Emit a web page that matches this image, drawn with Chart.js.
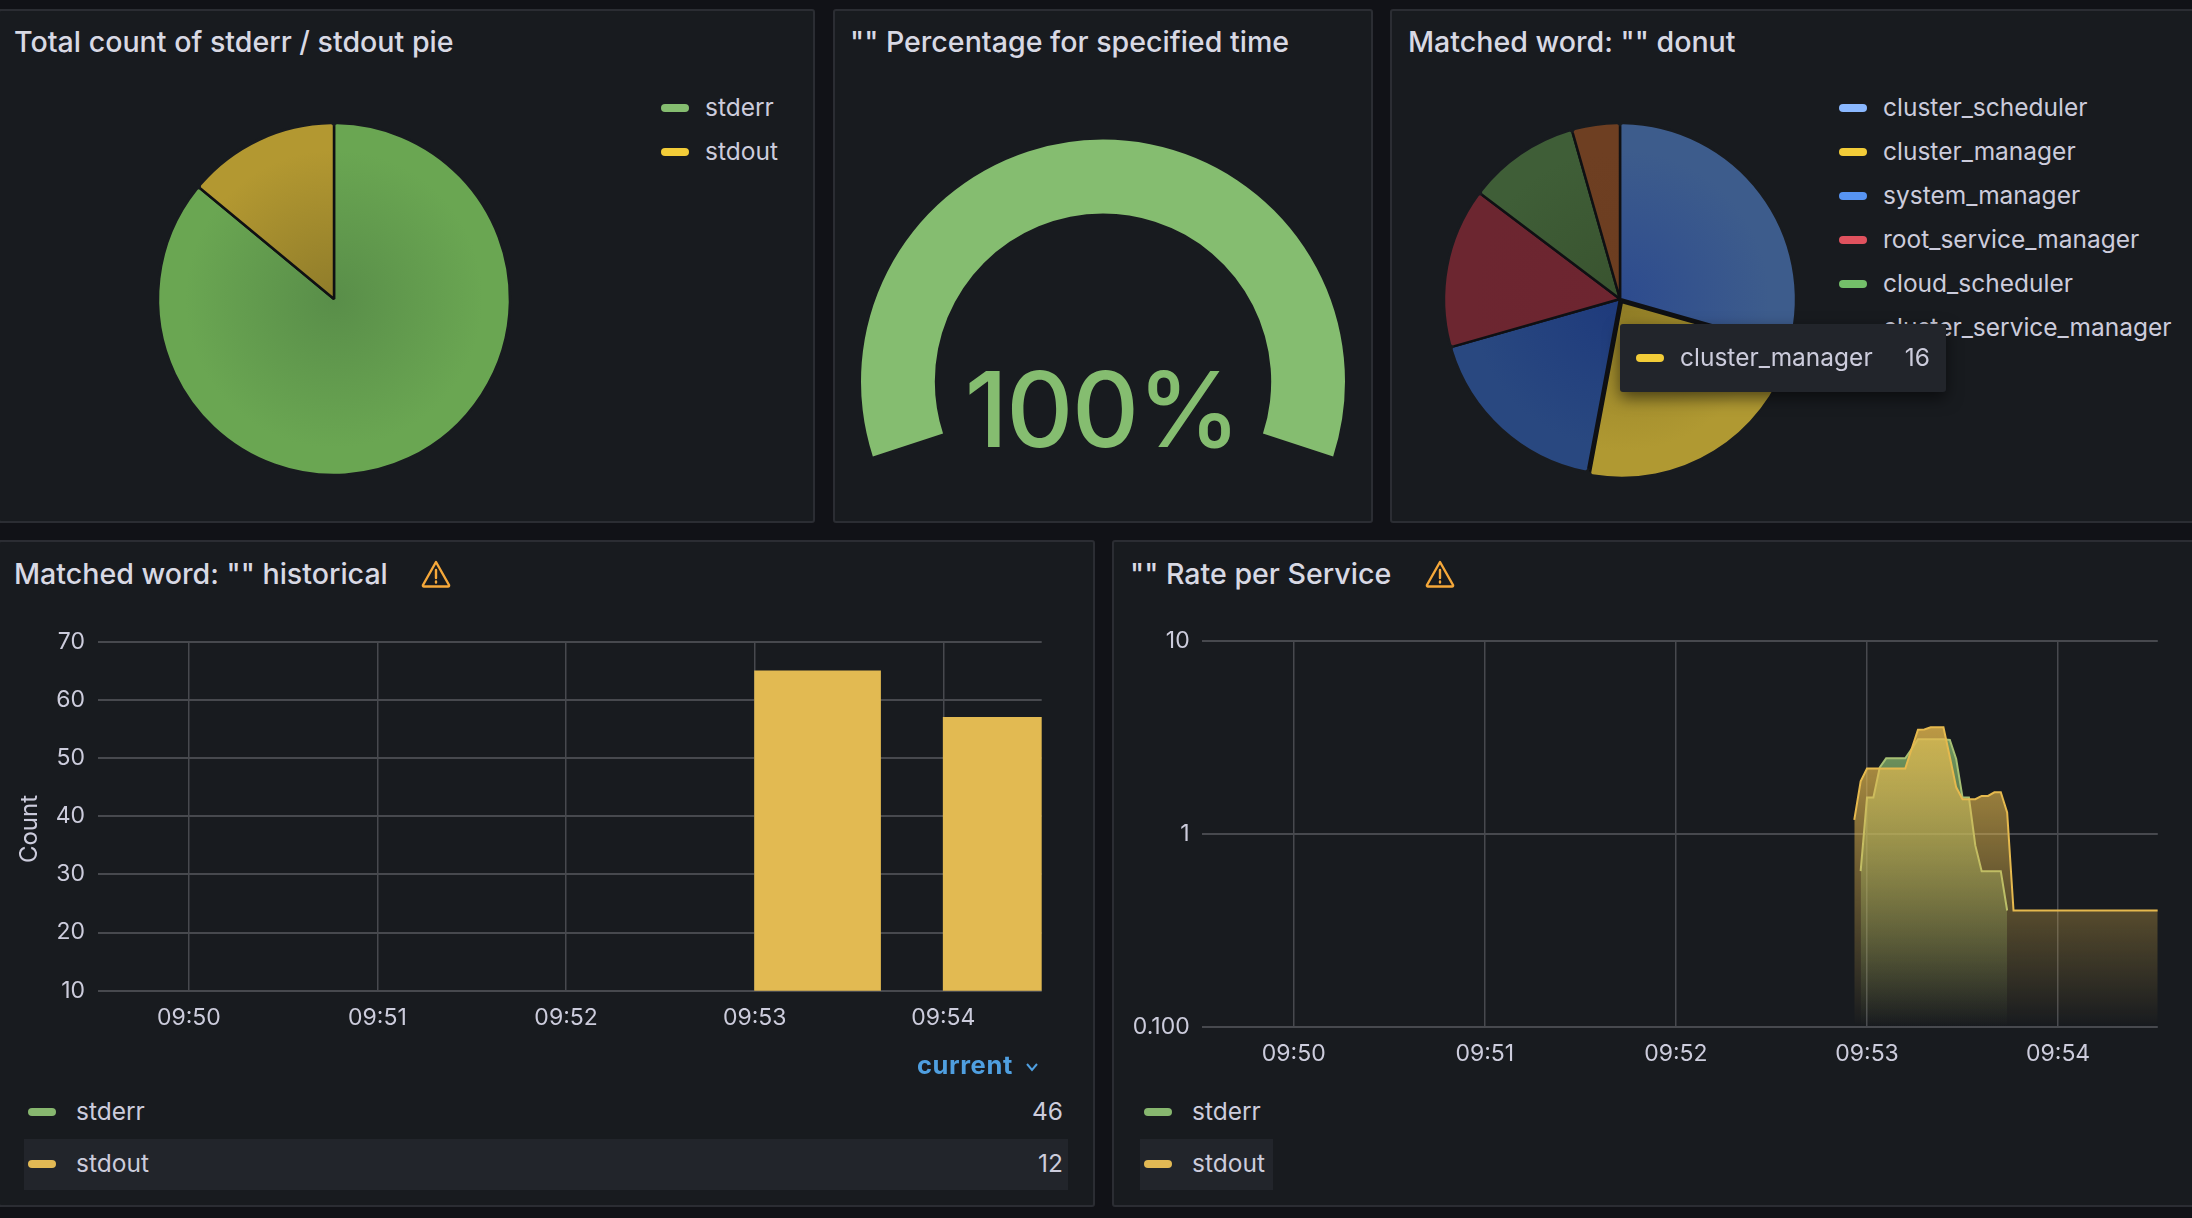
<!DOCTYPE html>
<html>
<head>
<meta charset="utf-8">
<title>Dashboard</title>
<script src="https://cdn.jsdelivr.net/npm/chart.js@4"></script>
<style>
    html, body { margin: 0; padding: 0; background: #111217; width: 2192px; height: 1218px; overflow: hidden; font-family: Inter, sans-serif; color: #ccccdc; }
    .panel { position: absolute; box-sizing: border-box; background: #181b1f; border: 2px solid #2b2d33; border-radius: 3px; }
    .title { position: absolute; font-size: 28.6px; font-weight: 500; line-height: 34px; color: #d8d9e4; white-space: pre; }
    .warn { position: absolute; width: 30px; height: 28px; }
    .row { position: absolute; font-size: 24.5px; line-height: 30px; white-space: pre; }
    .pill { position: absolute; width: 28px; height: 8px; border-radius: 4px; }
    canvas { position: absolute; }
    #gaugeText { position: absolute; left: 902px; width: 400px; top: 347px; text-align: center; font-size: 104px; font-weight: 500; letter-spacing: -1.5px; line-height: 124px; color: #85bd70; }
    #tooltip { position: absolute; left: 1620px; top: 324px; width: 326px; height: 68px; background: #22252b; border-radius: 3px; box-shadow: 0 6px 16px rgba(0,0,0,.55); }
    #current { position: absolute; left: 917px; top: 1049px; font-size: 25.5px; line-height: 32px; font-weight: 700; letter-spacing: .6px; color: #4f9fe0; }
    #countTitle { position: absolute; left: -21px; top: 814px; width: 100px; text-align: center; font-size: 24px; line-height: 30px; transform: rotate(-90deg); }
    .hl { position: absolute; background: #22252b; }
</style>
</head>
<body>
<div class="panel" style="left:-2px;top:9px;width:817px;height:514px"></div>
<div class="panel" style="left:833px;top:9px;width:540px;height:514px"></div>
<div class="panel" style="left:1390px;top:9px;width:811px;height:514px"></div>
<div class="panel" style="left:-2px;top:540px;width:1097px;height:667px"></div>
<div class="panel" style="left:1112px;top:540px;width:1090px;height:667px"></div>

<div class="title" style="left:14px;top:25px">Total count of stderr / stdout pie</div>
<div class="title" style="left:850px;top:25px">"" Percentage for specified time</div>
<div class="title" style="left:1408px;top:25px">Matched word: "" donut</div>
<div class="title" style="left:14px;top:557px">Matched word: "" historical</div>
<div class="title" style="left:1130px;top:557px">"" Rate per Service</div>

<svg class="warn" style="left:421px;top:560px" viewBox="0 0 30 28"><path d="M15 2 L28 25 Q28.500 26.500 27 26.500 L3 26.500 Q1.500 26.500 2 25 Z M15 10 L15 18 M15 21.500 L15 22.500" fill="none" stroke="#f5a83a" stroke-width="2.400" stroke-linejoin="round" stroke-linecap="round"/></svg>
<svg class="warn" style="left:1425px;top:560px" viewBox="0 0 30 28"><path d="M15 2 L28 25 Q28.500 26.500 27 26.500 L3 26.500 Q1.500 26.500 2 25 Z M15 10 L15 18 M15 21.500 L15 22.500" fill="none" stroke="#f5a83a" stroke-width="2.400" stroke-linejoin="round" stroke-linecap="round"/></svg>

<canvas id="pieStream" width="380" height="380" style="left:144px;top:109px"></canvas>
<canvas id="gauge" width="500" height="400" style="left:853px;top:98px"></canvas>
<canvas id="pieWord" width="380" height="380" style="left:1430px;top:109px"></canvas>
<canvas id="barCount" width="1060" height="435" style="left:0;top:615px"></canvas>
<canvas id="lineRate" width="1060" height="455" style="left:1120px;top:615px"></canvas>

<div id="countTitle">Count</div>
<div id="gaugeText"></div>
<div id="legends"></div>

<div id="tooltip"></div>
<div id="current">current</div>
<svg style="position:absolute;left:1025px;top:1062px" width="14" height="10" viewBox="0 0 14 10"><path d="M2 2 L7 8 L12 2" fill="none" stroke="#4f9fe0" stroke-width="2"/></svg>

<script>
var bgPanel = '#181b1f';
var textColor = '#ccccdc';
var gridColor = '#47494e';

// pie: stderr / stdout share
var streamLabels = ['stderr', 'stdout'];
var streamValues = [86, 14];
var streamPillColors = ['#85bd70', '#f2cc38'];
var streamInner = ['#598e49', '#8f7c2a'];
var streamOuter = ['#6aa652', '#b39831'];
var streamOffsets = [0, 0];

// gauge
var gaugeValue = [100];
var gaugeLabel = '100%';

// pie: matched word per service
var wordLabels = ['cluster_scheduler', 'cluster_manager', 'system_manager', 'root_service_manager', 'cloud_scheduler', 'cluster_service_manager'];
var wordValues = [20, 16, 12, 10, 7, 3];
var wordPillColors = ['#8ab8ff', '#f2cc38', '#5794f2', '#e0525e', '#73bf69', '#e08a30'];
var wordInner = ['#2d4b8e', '#8f7c26', '#1e3a7c', '#6e2530', '#39532f', '#6c3d20'];
var wordOuter = ['#3d5c8c', '#b09932', '#294880', '#6c2630', '#3f5e37', '#6e3f22'];
var wordOffsets = [0, 14, 0, 0, 0, 0]; // the hovered slice sticks out a little

// tooltip
var tipLabel = 'cluster_manager';
var tipValue = '16';

// historical bars, x in seconds after 09:50
var barSeconds = [200, 260];
var barValues = [65, 57];

// shared time axis
var timeTicks = [0, 60, 120, 180, 240];
var timeLabels = ['09:50', '09:51', '09:52', '09:53', '09:54'];

// rate series
var stdoutSeconds = [176, 178, 180, 182, 184, 186, 188, 190, 192, 194, 196, 198, 200, 202, 204, 206, 208, 210, 212, 214, 216, 218, 220, 222, 224, 226, 271.3];
var stdoutRate = [1.18, 1.87, 2.18, 2.18, 2.18, 2.18, 2.18, 2.18, 2.18, 2.75, 3.46, 3.47, 3.56, 3.56, 3.56, 2.5, 1.74, 1.51, 1.51, 1.51, 1.57, 1.57, 1.64, 1.64, 1.29, 0.4, 0.4];
var stderrSeconds = [178, 180, 182, 184, 186, 188, 190, 192, 194, 196, 198, 200, 202, 204, 206, 208, 210, 212, 214, 216, 218, 220, 222, 224];
var stderrRate = [0.64, 1.54, 1.54, 2.21, 2.46, 2.46, 2.46, 2.46, 2.75, 3.09, 3.09, 3.09, 3.09, 3.09, 3.06, 2.44, 1.54, 1.54, 0.87, 0.64, 0.64, 0.64, 0.64, 0.4];
var rateTicks = [0.1, 1, 10];
var rateTickLabels = ['0.100', '1', '10'];

// bottom legends
var bottomLabels = ['stderr', 'stdout'];
var bottomCurrent = ['46', '12'];
var bottomColors = ['#87b76f', '#e2b954'];

Chart.defaults.font.family = 'Inter, sans-serif';
Chart.defaults.color = textColor;
Chart.defaults.animation = false;
Chart.defaults.plugins.legend.display = false;
Chart.defaults.plugins.tooltip.enabled = false;

function addRow(parent, left, top, text, color) {
    var el = document.createElement('div');
    el.className = 'row';
    el.style.left = left + 'px';
    el.style.top = top + 'px';
    if (color) el.style.color = color;
    el.textContent = text;
    parent.appendChild(el);
    return el;
}

function addPill(parent, left, centerY, color) {
    var el = document.createElement('div');
    el.className = 'pill';
    el.style.left = left + 'px';
    el.style.top = (centerY - 4) + 'px';
    el.style.background = color;
    parent.appendChild(el);
}

function addHighlight(parent, left, top, width, height) {
    var el = document.createElement('div');
    el.className = 'hl';
    el.style.cssText = 'left:' + left + 'px;top:' + top + 'px;width:' + width + 'px;height:' + height + 'px';
    parent.appendChild(el);
}

function buildLegends() {
    var box = document.getElementById('legends');
    streamLabels.forEach(function (name, i) {
        var y = 108 + i * 44;
        addPill(box, 661, y, streamPillColors[i]);
        addRow(box, 705, y - 16, name);
    });
    wordLabels.forEach(function (name, i) {
        var y = 108 + i * 44;
        addPill(box, 1839, y, wordPillColors[i]);
        addRow(box, 1883, y - 16, name);
    });
    addHighlight(box, 24, 1139, 1044, 51);
    addHighlight(box, 1140, 1139, 133, 51);
    bottomLabels.forEach(function (name, i) {
        var y = 1112 + i * 52;
        addPill(box, 28, y, bottomColors[i]);
        addRow(box, 76, y - 16, name);
        var val = addRow(box, 0, y - 16, bottomCurrent[i]);
        val.style.left = 'auto';
        val.style.right = (2192 - 1063) + 'px';
        addPill(box, 1144, y, bottomColors[i]);
        addRow(box, 1192, y - 16, name);
    });
}

function buildTooltip() {
    var tip = document.getElementById('tooltip');
    addPill(tip, 16, 34, wordPillColors[1]);
    addRow(tip, 60, 18, tipLabel);
    var val = addRow(tip, 0, 18, tipValue);
    val.style.left = 'auto';
    val.style.right = '16px';
}

function radialFill(inner, outer) {
    return function (ctx) {
        var area = ctx.chart.chartArea;
        if (!area) return inner[ctx.dataIndex];
        var cx = (area.left + area.right) / 2;
        var cy = (area.top + area.bottom) / 2;
        var grad = ctx.chart.ctx.createRadialGradient(cx, cy, 0, cx, cy, 175);
        grad.addColorStop(0, inner[ctx.dataIndex]);
        grad.addColorStop(0.85, outer[ctx.dataIndex]);
        grad.addColorStop(1, outer[ctx.dataIndex]);
        return grad;
    };
}

// dark slice separators that fade into the panel colour at the rim
function separatorStroke(ctx) {
    var area = ctx.chart.chartArea;
    if (!area) return bgPanel;
    var cx = (area.left + area.right) / 2;
    var cy = (area.top + area.bottom) / 2;
    var grad = ctx.chart.ctx.createRadialGradient(cx, cy, 0, cx, cy, 180);
    grad.addColorStop(0, '#0f1013');
    grad.addColorStop(0.955, '#0f1013');
    grad.addColorStop(0.965, bgPanel);
    grad.addColorStop(1, bgPanel);
    return grad;
}

function makePie(id, labels, values, inner, outer, offsets) {
    return new Chart(document.getElementById(id), {
        type: 'pie',
        data: {
            labels: labels,
            datasets: [{
                data: values,
                backgroundColor: radialFill(inner, outer),
                borderColor: separatorStroke,
                borderWidth: 2.5,
                borderRadius: 3,
                offset: offsets
            }]
        },
        options: { responsive: false, radius: 176 }
    });
}

function timeAxis() {
    return {
        type: 'linear',
        min: -28.9,
        max: 271.3,
        offset: false,
        border: { display: false },
        grid: { color: gridColor, lineWidth: 1.5, drawTicks: false, offset: false },
        ticks: {
            font: { size: 23 },
            padding: 14,
            maxRotation: 0,
            autoSkip: false,
            callback: function (v, i) { return timeLabels[i]; }
        },
        afterBuildTicks: function (scale) {
            scale.ticks = timeTicks.map(function (v) { return { value: v }; });
        }
    };
}

function fadeFill(rgb, series) {
    return function (ctx) {
        var chart = ctx.chart;
        if (!chart.chartArea) return 'rgba(' + rgb + ',0.3)';
        var top = chart.scales.y.getPixelForValue(Math.max.apply(null, series));
        var grad = chart.ctx.createLinearGradient(0, top, 0, chart.chartArea.bottom);
        grad.addColorStop(0, 'rgba(' + rgb + ',0.8)');
        grad.addColorStop(1, 'rgba(' + rgb + ',0)');
        return grad;
    };
}

function zipPoints(xs, ys) {
    return xs.map(function (x, i) { return { x: x, y: ys[i] }; });
}

buildLegends();
buildTooltip();
document.getElementById('gaugeText').textContent = gaugeLabel;

makePie('pieStream', streamLabels, streamValues, streamInner, streamOuter, streamOffsets);
makePie('pieWord', wordLabels, wordValues, wordInner, wordOuter, wordOffsets);

new Chart(document.getElementById('gauge'), {
    type: 'doughnut',
    data: { datasets: [{ data: gaugeValue, backgroundColor: '#85bd70', borderWidth: 0 }] },
    options: { responsive: false, rotation: -108, circumference: 216, radius: 242, cutout: '69.5%' }
});

var barX = timeAxis();
new Chart(document.getElementById('barCount'), {
    type: 'bar',
    data: {
        datasets: [{
            data: zipPoints(barSeconds, barValues),
            backgroundColor: '#e2ba52',
            barThickness: 126
        }]
    },
    options: {
        responsive: false,
        layout: { autoPadding: false, padding: { top: 20.6, right: 18.3 } },
        scales: {
            x: Object.assign(barX, {
                afterFit: function (scale) { scale.height = 59.3; }
            }),
            y: {
                min: 10,
                max: 70,
                border: { display: false },
                grid: { color: gridColor, lineWidth: 2, drawTicks: false },
                ticks: { font: { size: 23 }, padding: 13, stepSize: 10 },
                afterFit: function (scale) { scale.width = 98; }
            }
        }
    }
});

var lineX = timeAxis();
new Chart(document.getElementById('lineRate'), {
    type: 'line',
    data: {
        datasets: [{
            label: 'stdout',
            order: 0,
            data: zipPoints(stdoutSeconds, stdoutRate),
            borderColor: '#e5b94e',
            borderWidth: 2,
            pointRadius: 0,
            tension: 0,
            fill: 'start',
            backgroundColor: fadeFill('229,185,78', stdoutRate)
        }, {
            label: 'stderr',
            order: 1,
            data: zipPoints(stderrSeconds, stderrRate),
            borderColor: '#a6c074',
            borderWidth: 2,
            pointRadius: 0,
            tension: 0,
            fill: 'start',
            backgroundColor: fadeFill('135,183,111', stderrRate)
        }]
    },
    options: {
        responsive: false,
        layout: { autoPadding: false, padding: { top: 20.6, right: 22.2 } },
        scales: {
            x: Object.assign(lineX, {
                afterFit: function (scale) { scale.height = 43.3; }
            }),
            y: {
                type: 'logarithmic',
                min: 0.1,
                max: 10,
                border: { display: false },
                grid: { color: gridColor, lineWidth: 2, drawTicks: false },
                ticks: {
                    font: { size: 23 },
                    padding: 12,
                    autoSkip: false,
                    callback: function (v, i) { return rateTickLabels[i]; }
                },
                afterBuildTicks: function (scale) {
                    scale.ticks = rateTicks.map(function (v) { return { value: v }; });
                },
                afterFit: function (scale) { scale.width = 81.7; }
            }
        }
    }
});
</script>
</body>
</html>
